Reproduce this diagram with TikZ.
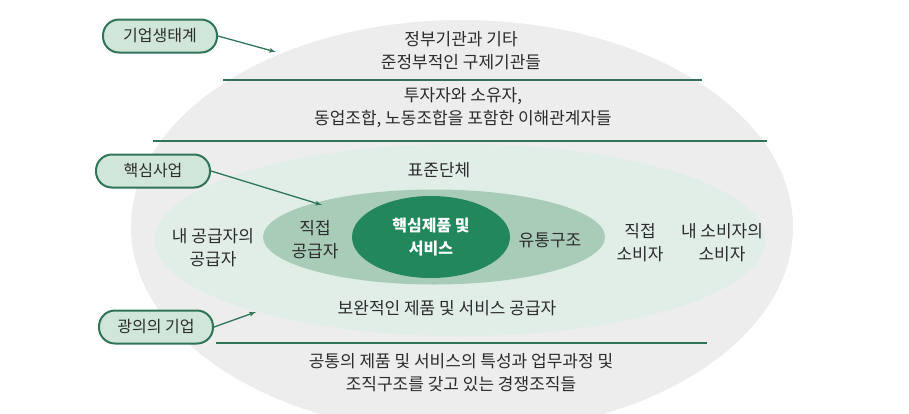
\documentclass[tikz,border=0pt]{standalone}
\usepackage{fontspec}
\setmainfont{Noto Sans CJK KR}
\usetikzlibrary{arrows,shapes}
\definecolor{eco}{HTML}{EDEDED}
\definecolor{biz}{HTML}{E1EEE8}
\definecolor{dist}{HTML}{A9CCB9}
\definecolor{core}{HTML}{22875B}
\definecolor{rule}{HTML}{2F7457}
\definecolor{tagfill}{HTML}{CFE6D8}
\definecolor{ink}{HTML}{2C2C2C}
\tikzstyle{tag}=[rectangle,rounded corners=16pt,draw=rule,line width=2pt,fill=tagfill,minimum width=114pt,minimum height=33pt,inner sep=0pt,text=ink,font=\fontsize{16}{19}\selectfont]
\tikzstyle{txt}=[align=center,text=ink,inner sep=0pt,font=\fontsize{17}{23}\selectfont]
\tikzstyle{sep}=[draw=rule,line width=2pt]
\tikzstyle{point}=[coordinate]
\begin{document}
\begin{tikzpicture}[x=1pt,y=-1pt,>=latex']
  \useasboundingbox (0,0) rectangle (909,413);
  \clip (0,0) rectangle (909,413);
  % 바깥에서 안쪽으로 타원
  \fill[eco] (462,227) ellipse (331 and 207);
  \fill[biz] (460,240) ellipse (305 and 96);
  \node[ellipse,fill=dist,minimum width=342pt,minimum height=95pt] (chain) at (434,237) {};
  \node[ellipse,fill=core,minimum width=158pt,minimum height=82pt,align=center,text=white,font=\fontsize{16}{23}\bfseries] (core) at (431,237) {핵심제품 및\\서비스};
  % 구분선
  \coordinate (l1a) at (223,80);  \coordinate (l1b) at (702,80);
  \coordinate (l2a) at (153,141); \coordinate (l2b) at (767,141);
  \coordinate (l3a) at (216,343); \coordinate (l3b) at (707,343);
  \draw[sep] (l1a)--(l1b);
  \draw[sep] (l2a)--(l2b);
  \draw[sep] (l3a)--(l3b);
  % 글자
  \node[txt] (gov) at (461,51) {정부기관과 기타\\준정부적인 구제기관들};
  \node[txt] (owner) at (463,108) {투자자와 소유자,\\동업조합, 노동조합을 포함한 이해관계자들};
  \node[txt] (std) at (439,170) {표준단체};
  \node[txt] (supsup) at (213,248) {내 공급자의\\공급자};
  \node[txt] (sup) at (315,240) {직접\\공급자};
  \node[txt] (distr) at (550,240) {유통구조};
  \node[txt] (cust) at (640,243) {직접\\소비자};
  \node[txt] (custcust) at (722,243) {내 소비자의\\소비자};
  \node[txt] (compl) at (447,308) {보완적인 제품 및 서비스 공급자};
  \node[txt] (comp) at (461,373) {공통의 제품 및 서비스의 특성과 업무과정 및\\조직구조를 갖고 있는 경쟁조직들};
  % 이름표와 화살표
  \node[tag] (ecosys) at (160,36) {기업생태계};
  \node[tag] (business) at (153,171) {핵심사업};
  \node[tag] (firm) at (156,327) {광의의 기업};
  \node[point] (p1) at (276,52) {};
  \node[point] (p2) at (322,205) {};
  \node[point] (p3) at (256,312) {};
  \draw[->,draw=rule,line width=1.3pt] (ecosys.east)--(p1);
  \draw[->,draw=rule,line width=1.3pt] (business.east)--(p2);
  \draw[->,draw=rule,line width=1.3pt] (firm.east)--(p3);
\end{tikzpicture}
\end{document}
